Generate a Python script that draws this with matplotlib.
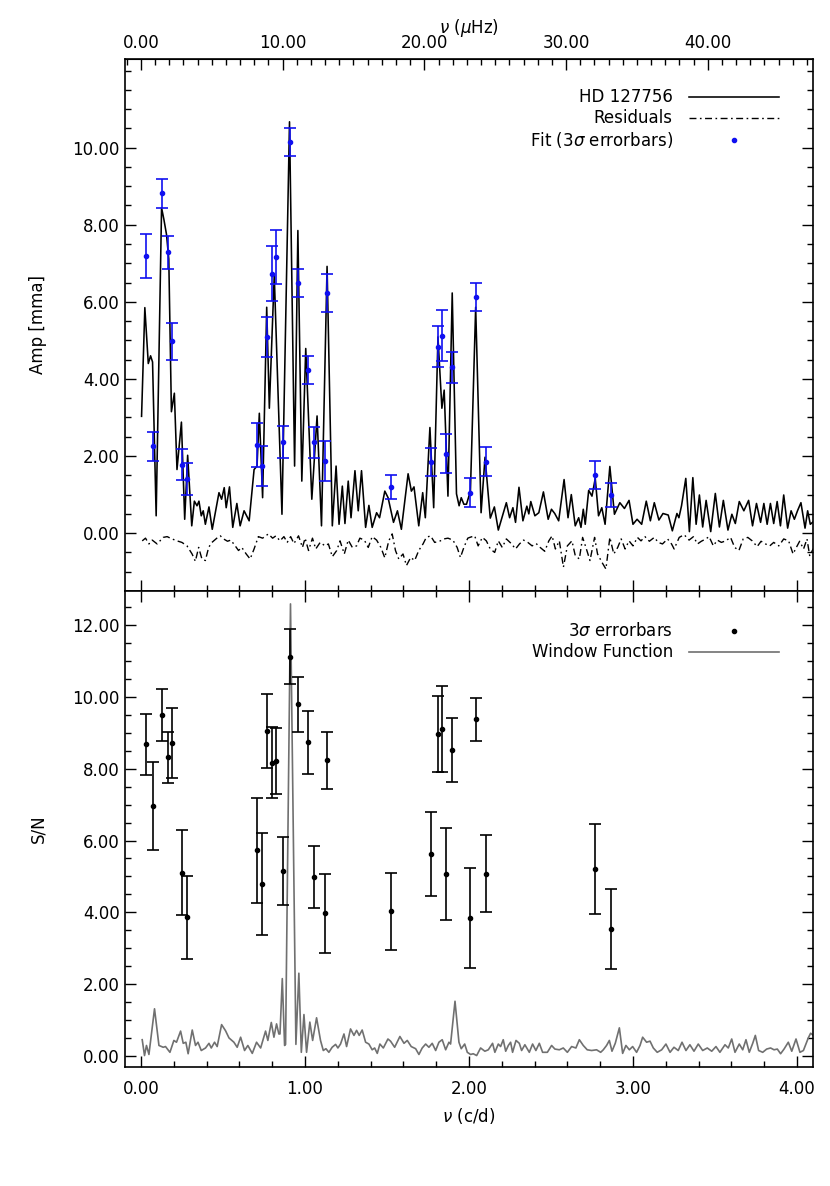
import numpy as np
import matplotlib
matplotlib.use("Agg")
import matplotlib.pyplot as plt
from matplotlib.ticker import MultipleLocator, FixedLocator, FormatStrFormatter

CD_TO_UHZ = 1e6 / 86400.0  # 1 c/d in muHz

# ---- fitted frequencies (c/d) with amplitude and S/N, 3 sigma errors ----
fit_freq = [0.032, 0.073, 0.127, 0.164, 0.192, 0.249, 0.281, 0.706, 0.736, 0.769,
            0.799, 0.823, 0.864, 0.908, 0.955, 1.018, 1.054, 1.123, 1.135, 1.524,
            1.766, 1.811, 1.833, 1.860, 1.898, 2.007, 2.042, 2.106, 2.768, 2.863]
fit_amp = [7.18, 2.25, 8.81, 7.29, 4.98, 1.78, 1.41, 2.29, 1.74, 5.09,
           6.73, 7.16, 2.36, 10.15, 6.49, 4.23, 2.36, 1.87, 6.22, 1.20,
           1.84, 4.84, 5.12, 2.06, 4.30, 1.05, 6.13, 1.85, 1.51, 1.00]
fit_amp_err = [0.57, 0.38, 0.38, 0.43, 0.48, 0.40, 0.42, 0.58, 0.51, 0.52,
               0.72, 0.70, 0.41, 0.37, 0.37, 0.37, 0.40, 0.51, 0.49, 0.31,
               0.37, 0.54, 0.66, 0.51, 0.41, 0.37, 0.37, 0.38, 0.37, 0.31]
fit_sn = [8.68, 6.95, 9.49, 8.31, 8.71, 5.11, 3.86, 5.73, 4.80, 9.04,
          8.16, 8.21, 5.16, 11.11, 9.79, 8.73, 4.99, 3.98, 8.23, 4.03,
          5.63, 8.96, 9.10, 5.07, 8.52, 3.85, 9.37, 5.08, 5.21, 3.54]
fit_sn_err = [0.85, 1.22, 0.72, 0.70, 0.97, 1.17, 1.16, 1.46, 1.42, 1.03,
              0.99, 0.93, 0.94, 0.76, 0.77, 0.87, 0.87, 1.10, 0.80, 1.08,
              1.17, 1.05, 1.20, 1.28, 0.89, 1.39, 0.60, 1.07, 1.26, 1.10]

# ---- amplitude spectrum of HD 127756 (c/d, mma) ----
spec_freq = [0.004, 0.024, 0.045, 0.059, 0.071, 0.093, 0.126, 0.140, 0.156, 0.170,
             0.186, 0.204, 0.220, 0.247, 0.267, 0.285, 0.310, 0.326, 0.342, 0.354,
             0.368, 0.380, 0.393, 0.415, 0.435, 0.476, 0.492, 0.508, 0.520, 0.540,
             0.560, 0.585, 0.605, 0.629, 0.660, 0.690, 0.708, 0.722, 0.742, 0.767,
             0.783, 0.813, 0.860, 0.906, 0.937, 0.957, 0.981, 1.005, 1.042, 1.074,
             1.101, 1.135, 1.167, 1.190, 1.208, 1.228, 1.244, 1.264, 1.281, 1.305,
             1.325, 1.345, 1.370, 1.390, 1.410, 1.437, 1.455, 1.487, 1.507, 1.540,
             1.564, 1.588, 1.629, 1.649, 1.665, 1.694, 1.718, 1.734, 1.762, 1.785,
             1.811, 1.835, 1.849, 1.872, 1.898, 1.924, 1.940, 1.953, 1.969, 1.985,
             2.009, 2.041, 2.074, 2.098, 2.130, 2.155, 2.179, 2.228, 2.248, 2.268,
             2.284, 2.305, 2.329, 2.353, 2.365, 2.377, 2.402, 2.426, 2.454, 2.483,
             2.503, 2.523, 2.547, 2.580, 2.604, 2.624, 2.648, 2.669, 2.683, 2.697,
             2.709, 2.730, 2.750, 2.770, 2.790, 2.810, 2.830, 2.859, 2.887, 2.920,
             2.948, 2.976, 3.000, 3.025, 3.053, 3.081, 3.106, 3.130, 3.158, 3.183,
             3.215, 3.240, 3.268, 3.280, 3.296, 3.322, 3.344, 3.365, 3.385, 3.405,
             3.425, 3.446, 3.474, 3.502, 3.527, 3.551, 3.579, 3.603, 3.624, 3.648,
             3.676, 3.705, 3.729, 3.753, 3.778, 3.798, 3.818, 3.838, 3.858, 3.879,
             3.899, 3.919, 3.943, 3.964, 3.984, 4.004, 4.024, 4.049, 4.065, 4.081,
             4.100]
spec_amp = [3.03, 5.85, 4.40, 4.60, 4.44, 0.45, 8.44, 8.14, 7.75, 7.11,
            3.15, 3.63, 1.65, 2.88, 0.36, 2.02, 0.19, 0.83, 0.71, 0.83,
            0.45, 0.58, 0.23, 0.68, 0.10, 1.05, 0.88, 1.18, 0.66, 1.20,
            0.15, 0.77, 0.19, 0.58, 0.32, 1.65, 1.74, 3.11, 0.92, 5.86,
            3.24, 6.69, 0.49, 10.67, 1.74, 7.85, 1.35, 4.79, 0.88, 3.04,
            0.19, 6.92, 0.19, 1.74, 0.23, 1.22, 0.25, 1.35, 0.40, 1.62,
            0.58, 1.62, 0.15, 0.72, 0.15, 0.53, 0.40, 1.09, 0.92, 0.28,
            0.58, 0.10, 1.54, 1.09, 1.20, 0.19, 1.05, 0.40, 2.74, 0.66,
            5.09, 3.24, 3.71, 0.96, 6.23, 1.02, 0.71, 0.92, 0.75, 0.75,
            1.09, 5.86, 0.53, 1.97, 0.39, 0.68, 0.08, 0.79, 0.40, 0.66,
            0.28, 1.19, 0.32, 0.70, 0.50, 0.82, 0.45, 0.53, 1.07, 0.36,
            0.62, 0.51, 0.32, 1.39, 0.40, 1.00, 0.19, 0.40, 0.15, 0.62,
            0.23, 1.11, 0.96, 1.42, 0.45, 0.66, 0.23, 1.73, 0.49, 0.79,
            0.64, 0.85, 0.23, 0.36, 0.23, 0.83, 0.32, 0.79, 0.34, 0.51,
            0.47, 0.06, 0.51, 0.40, 0.71, 1.42, 0.04, 1.44, 0.23, 0.99,
            0.16, 0.85, 0.04, 1.03, 0.16, 0.85, 0.08, 0.49, 0.25, 0.82,
            0.58, 0.85, 0.19, 0.77, 0.28, 0.77, 0.23, 0.77, 0.25, 0.82,
            0.19, 0.99, 0.13, 0.58, 0.36, 0.59, 0.79, 0.13, 0.58, 0.23,
            0.30]

# ---- residuals after prewhitening (c/d, mma) ----
resid_freq = [0.008, 0.028, 0.049, 0.069, 0.099, 0.136, 0.160, 0.190, 0.220, 0.250,
              0.281, 0.312, 0.332, 0.352, 0.372, 0.393, 0.413, 0.433, 0.463, 0.484,
              0.504, 0.528, 0.548, 0.575, 0.595, 0.615, 0.642, 0.666, 0.690, 0.716,
              0.742, 0.777, 0.803, 0.823, 0.848, 0.872, 0.892, 0.913, 0.933, 0.953,
              0.961, 0.985, 1.001, 1.022, 1.046, 1.066, 1.093, 1.123, 1.143, 1.167,
              1.194, 1.214, 1.240, 1.264, 1.289, 1.315, 1.335, 1.362, 1.386, 1.410,
              1.437, 1.463, 1.487, 1.511, 1.532, 1.552, 1.572, 1.598, 1.619, 1.645,
              1.669, 1.694, 1.720, 1.740, 1.766, 1.791, 1.821, 1.847, 1.872, 1.902,
              1.928, 1.948, 1.969, 1.993, 2.005, 2.035, 2.056, 2.082, 2.106, 2.130,
              2.157, 2.179, 2.203, 2.228, 2.258, 2.284, 2.308, 2.333, 2.359, 2.385,
              2.410, 2.434, 2.462, 2.487, 2.507, 2.527, 2.551, 2.576, 2.600, 2.628,
              2.648, 2.673, 2.693, 2.713, 2.738, 2.766, 2.784, 2.810, 2.835, 2.859,
              2.883, 2.907, 2.928, 2.952, 2.976, 3.000, 3.027, 3.049, 3.073, 3.100,
              3.130, 3.154, 3.180, 3.211, 3.235, 3.251, 3.282, 3.312, 3.342, 3.369,
              3.393, 3.417, 3.444, 3.464, 3.490, 3.514, 3.539, 3.565, 3.595, 3.620,
              3.646, 3.672, 3.700, 3.727, 3.757, 3.781, 3.808, 3.834, 3.858, 3.889,
              3.919, 3.949, 3.976, 3.996, 4.016, 4.040, 4.061, 4.077, 4.100]
resid_amp = [-0.20, -0.13, -0.28, -0.18, -0.28, -0.11, -0.09, -0.15, -0.20, -0.24,
             -0.33, -0.54, -0.73, -0.37, -0.67, -0.71, -0.37, -0.24, -0.13, -0.07,
             -0.15, -0.21, -0.18, -0.33, -0.45, -0.37, -0.54, -0.67, -0.41, -0.09,
             -0.13, -0.02, -0.13, -0.07, -0.20, -0.09, -0.24, -0.09, -0.27, -0.13,
             -0.07, -0.37, -0.13, -0.45, -0.13, -0.41, -0.24, -0.33, -0.28, -0.61,
             -0.45, -0.20, -0.54, -0.18, -0.37, -0.33, -0.13, -0.18, -0.37, -0.09,
             -0.18, -0.37, -0.64, -0.20, -0.02, -0.45, -0.67, -0.54, -0.84, -0.63,
             -0.71, -0.45, -0.28, -0.11, -0.07, -0.24, -0.21, -0.15, -0.13, -0.18,
             -0.37, -0.63, -0.37, -0.13, -0.11, -0.07, -0.33, -0.11, -0.20, -0.41,
             -0.50, -0.20, -0.37, -0.15, -0.27, -0.41, -0.28, -0.18, -0.24, -0.33,
             -0.27, -0.37, -0.47, -0.20, -0.07, -0.41, -0.20, -0.88, -0.33, -0.20,
             -0.58, -0.67, -0.11, -0.37, -0.71, -0.11, -0.54, -0.75, -0.93, -0.11,
             -0.54, -0.37, -0.15, -0.41, -0.20, -0.33, -0.11, -0.20, -0.09, -0.21,
             -0.11, -0.24, -0.28, -0.15, -0.28, -0.41, -0.11, -0.04, -0.18, -0.09,
             -0.28, -0.21, -0.15, -0.09, -0.33, -0.18, -0.24, -0.20, -0.11, -0.37,
             -0.45, -0.15, -0.11, -0.20, -0.35, -0.21, -0.28, -0.33, -0.24, -0.33,
             -0.15, -0.20, -0.54, -0.37, -0.21, -0.41, -0.15, -0.58, -0.40]

# ---- spectral window, shifted to the main peak (c/d, S/N scale) ----
win_freq = [0.008, 0.022, 0.034, 0.049, 0.083, 0.110, 0.136, 0.150, 0.177, 0.201,
            0.217, 0.242, 0.258, 0.274, 0.288, 0.313, 0.333, 0.348, 0.368, 0.394,
            0.415, 0.429, 0.449, 0.465, 0.492, 0.516, 0.537, 0.567, 0.587, 0.608,
            0.632, 0.652, 0.679, 0.705, 0.730, 0.760, 0.774, 0.795, 0.811, 0.827,
            0.841, 0.848, 0.862, 0.876, 0.882, 0.912, 0.945, 0.963, 0.978, 0.994,
            1.010, 1.030, 1.047, 1.071, 1.095, 1.112, 1.128, 1.146, 1.166, 1.187,
            1.201, 1.217, 1.238, 1.254, 1.278, 1.299, 1.315, 1.331, 1.349, 1.370,
            1.390, 1.410, 1.425, 1.441, 1.457, 1.478, 1.506, 1.522, 1.547, 1.579,
            1.604, 1.624, 1.648, 1.675, 1.695, 1.715, 1.736, 1.756, 1.776, 1.797,
            1.817, 1.837, 1.858, 1.878, 1.888, 1.915, 1.939, 1.953, 1.974, 1.990,
            2.010, 2.026, 2.047, 2.071, 2.097, 2.118, 2.144, 2.158, 2.179, 2.193,
            2.209, 2.224, 2.240, 2.254, 2.266, 2.287, 2.307, 2.321, 2.341, 2.368,
            2.388, 2.408, 2.429, 2.449, 2.478, 2.504, 2.524, 2.551, 2.575, 2.600,
            2.626, 2.652, 2.673, 2.697, 2.721, 2.748, 2.778, 2.803, 2.819, 2.839,
            2.856, 2.872, 2.892, 2.917, 2.937, 2.957, 2.978, 2.998, 3.022, 3.043,
            3.059, 3.083, 3.104, 3.124, 3.148, 3.175, 3.201, 3.226, 3.250, 3.276,
            3.299, 3.323, 3.347, 3.372, 3.398, 3.425, 3.453, 3.480, 3.506, 3.530,
            3.561, 3.581, 3.602, 3.622, 3.648, 3.669, 3.689, 3.709, 3.730, 3.746,
            3.766, 3.791, 3.815, 3.839, 3.860, 3.880, 3.900, 3.921, 3.947, 3.968,
            3.994, 4.018, 4.039, 4.069, 4.083, 4.100]
win_sn = [0.46, 0.02, 0.30, 0.05, 1.32, 0.30, 0.25, 0.27, 0.11, 0.44,
          0.39, 0.70, 0.36, 0.39, 0.07, 0.73, 0.30, 0.39, 0.16, 0.23,
          0.36, 0.23, 0.39, 0.27, 0.88, 0.71, 0.51, 0.39, 0.25, 0.53,
          0.16, 0.30, 0.08, 0.39, 0.23, 0.70, 0.44, 0.94, 0.53, 0.90,
          0.62, 0.62, 2.16, 0.30, 0.33, 12.58, 0.33, 2.31, 0.11, 1.16,
          0.11, 0.95, 0.44, 1.07, 0.44, 0.16, 0.21, 0.11, 0.25, 0.33,
          0.23, 0.34, 0.62, 0.27, 0.76, 0.58, 0.72, 0.58, 0.73, 0.39,
          0.34, 0.18, 0.23, 0.08, 0.34, 0.23, 0.48, 0.42, 0.25, 0.55,
          0.36, 0.44, 0.27, 0.21, 0.05, 0.23, 0.34, 0.25, 0.36, 0.16,
          0.39, 0.46, 0.18, 0.39, 0.34, 1.53, 0.39, 0.21, 0.34, 0.11,
          0.05, 0.07, 0.02, 0.23, 0.14, 0.18, 0.36, 0.11, 0.34, 0.27,
          0.46, 0.14, 0.30, 0.39, 0.11, 0.44, 0.36, 0.16, 0.32, 0.11,
          0.34, 0.16, 0.36, 0.11, 0.11, 0.30, 0.20, 0.18, 0.23, 0.11,
          0.27, 0.23, 0.46, 0.30, 0.18, 0.16, 0.18, 0.11, 0.18, 0.30,
          0.44, 0.14, 0.36, 0.79, 0.08, 0.30, 0.18, 0.27, 0.11, 0.30,
          0.53, 0.39, 0.42, 0.23, 0.11, 0.18, 0.34, 0.11, 0.25, 0.16,
          0.39, 0.16, 0.32, 0.14, 0.34, 0.16, 0.23, 0.14, 0.27, 0.11,
          0.32, 0.23, 0.48, 0.11, 0.34, 0.18, 0.46, 0.11, 0.36, 0.58,
          0.16, 0.11, 0.20, 0.23, 0.18, 0.20, 0.07, 0.20, 0.39, 0.14,
          0.48, 0.11, 0.16, 0.51, 0.64, 0.58]

uhz_ticks = [0, 10, 20, 30, 40]

FS = 12
plt.rcParams['font.family'] = ['DejaVu Sans']
plt.rcParams['mathtext.fontset'] = 'dejavusans'

fig = plt.figure(figsize=(8.3, 11.86), dpi=100)
ax1 = fig.add_axes([0.150, 0.5017, 0.830, 0.4486])
ax2 = fig.add_axes([0.150, 0.1003, 0.830, 0.4014])


def style_axis(ax):
    for sp in ax.spines.values():
        sp.set_linewidth(1.2)
    ax.set_xlim(-0.1, 4.1)
    ax.xaxis.set_major_locator(FixedLocator([0, 1, 2, 3, 4]))
    ax.xaxis.set_minor_locator(MultipleLocator(0.2))
    ax.yaxis.set_minor_locator(MultipleLocator(0.5))
    ax.yaxis.set_major_formatter(FormatStrFormatter('%.2f'))
    ax.xaxis.set_major_formatter(FormatStrFormatter('%.2f'))
    ax.tick_params(which='both', direction='in', right=True, labelsize=FS)
    ax.tick_params(which='major', length=8, width=1.0)
    ax.tick_params(which='minor', length=4, width=1.0)


# ---- top panel: amplitude spectrum ----
style_axis(ax1)
ax1.plot(spec_freq, spec_amp, color='black', lw=1.15)
ax1.plot(resid_freq, resid_amp, color='black', lw=1.0,
         linestyle=(0, (5, 2.5, 1.2, 2.5)))
ax1.errorbar(fit_freq, fit_amp, yerr=fit_amp_err, fmt='o', color='#1010f0',
             ms=3, elinewidth=1.2, capsize=4, capthick=1.2)
ax1.set_ylim(-1.5, 12.3)
ax1.yaxis.set_major_locator(FixedLocator([0, 2, 4, 6, 8, 10]))
ax1.tick_params(axis='x', which='both', labelbottom=False, top=False)
ax1.set_ylabel('Amp [mma]', fontsize=FS, labelpad=18)

top = ax1.secondary_xaxis('top', functions=(lambda f: f * CD_TO_UHZ,
                                            lambda u: u / CD_TO_UHZ))
top.xaxis.set_major_locator(FixedLocator(uhz_ticks))
top.xaxis.set_minor_locator(MultipleLocator(1))
top.xaxis.set_major_formatter(FormatStrFormatter('%.2f'))
top.tick_params(which='both', direction='in', labelsize=FS, pad=5)
top.tick_params(which='major', length=8, width=1.0)
top.tick_params(which='minor', length=4, width=1.0)
top.set_xlabel(r'$\nu$ ($\mu$Hz)', fontsize=FS, labelpad=1)

# legend drawn by hand: right aligned text, sample on the right
tx, lx0, lx1, mx = 0.796, 0.820, 0.950, 0.885
rows = [0.929, 0.889, 0.848]
ax1.text(tx, rows[0], 'HD 127756', transform=ax1.transAxes, ha='right',
         va='center', fontsize=FS)
ax1.plot([lx0, lx1], [rows[0]] * 2, color='black', lw=1.15, transform=ax1.transAxes)
ax1.text(tx, rows[1], 'Residuals', transform=ax1.transAxes, ha='right',
         va='center', fontsize=FS)
ax1.plot([lx0, lx1], [rows[1]] * 2, color='black', lw=1.0,
         linestyle=(0, (5, 2.5, 1.2, 2.5)), transform=ax1.transAxes)
ax1.text(tx, rows[2], r'Fit (3$\sigma$ errorbars)', transform=ax1.transAxes,
         ha='right', va='center', fontsize=FS)
ax1.plot([mx], [rows[2]], 'o', color='#1010f0', ms=3, transform=ax1.transAxes)

# ---- bottom panel: S/N and window function ----
style_axis(ax2)
ax2.plot(win_freq, win_sn, color='#707070', lw=1.2)
ax2.errorbar(fit_freq, fit_sn, yerr=fit_sn_err, fmt='o', color='black',
             ms=3, elinewidth=1.2, capsize=4.5, capthick=1.2)
ax2.set_ylim(-0.3, 12.94)
ax2.yaxis.set_major_locator(FixedLocator([0, 2, 4, 6, 8, 10, 12]))
ax2.tick_params(axis='x', which='both', top=True, pad=9)
ax2.set_ylabel('S/N', fontsize=FS, labelpad=18)
ax2.set_xlabel(r'$\nu$ (c/d)', fontsize=FS, labelpad=6)

rows2 = [0.916, 0.872]
ax2.text(tx, rows2[0], r'3$\sigma$ errorbars', transform=ax2.transAxes,
         ha='right', va='center', fontsize=FS)
ax2.plot([mx], [rows2[0]], 'o', color='black', ms=3, transform=ax2.transAxes)
ax2.text(tx, rows2[1], 'Window Function', transform=ax2.transAxes,
         ha='right', va='center', fontsize=FS)
ax2.plot([lx0, lx1], [rows2[1]] * 2, color='#707070', lw=1.2,
         transform=ax2.transAxes)

fig.savefig('out.png', dpi=100)
